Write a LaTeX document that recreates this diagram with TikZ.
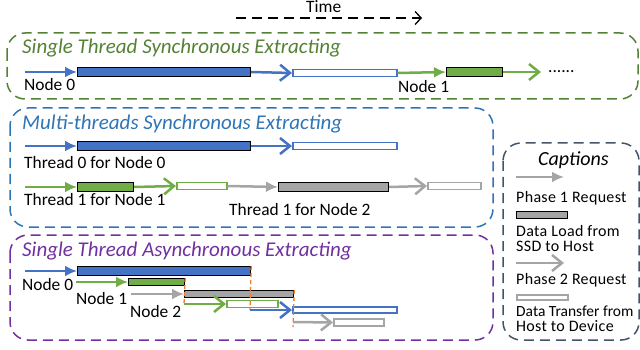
\documentclass[tikz,border=0pt]{standalone}
\usepackage{fontspec}
\setmainfont{Carlito}
\usetikzlibrary{arrows.meta}
\definecolor{oblue}{HTML}{4472C4}
\definecolor{ogreen}{HTML}{70AD47}
\definecolor{ogray}{HTML}{A5A5A5}
\definecolor{oorange}{HTML}{ED7D31}
\definecolor{tgreen}{HTML}{548235}
\definecolor{tblue}{HTML}{2E75B6}
\definecolor{tpurple}{HTML}{7030A0}
\definecolor{cgray}{HTML}{44546A}

\begin{document}
\begin{tikzpicture}[x=1pt, y=-1pt,
    panel/.style={line width=1.5pt, dash pattern=on 10pt off 6pt, rounded corners=18pt},
    ptitle/.style={anchor=base west, inner sep=0pt, font=\fontsize{21}{24}\selectfont\itshape},
    lbl/.style={anchor=base west, inner sep=0pt, font=\fontsize{17.4}{20}\selectfont},
    captxt/.style={anchor=base west, inner sep=0pt, font=\fontsize{16}{19}\selectfont\addfontfeatures{LetterSpace=2}},
    loadbar/.style={draw=black, line width=1.2pt, fill=#1, inner sep=0pt, minimum height=8.5pt, anchor=west},
    xferbar/.style={draw=#1, line width=1.5pt, fill=white, inner sep=0pt, minimum height=7pt, anchor=west},
    req1/.style={draw=#1, line width=2.5pt, -{Latex[length=12pt,width=11pt]}},
    req2/.style={draw=#1, line width=2.5pt, -{Straight Barb[length=10pt,width=16pt]}},
    sync/.style={draw=oorange, line width=1.3pt, dash pattern=on 4pt off 3pt},
]
\useasboundingbox (0,0) rectangle (640,350);

% time axis
\node[lbl] (time) at (306,13) {Time};
\coordinate (t0) at (236,18);
\coordinate (t1) at (422,18);
\draw[black, line width=1.3pt, dash pattern=on 10pt off 6pt, -{Straight Barb[length=6pt,width=13pt]}] (t0) -- (t1);

% panels
\draw[panel, tgreen] (7,33) rectangle (638,99);
\draw[panel, tblue] (10,108) rectangle (493,227);
\draw[panel, tpurple] (10,235) rectangle (493,340);
\draw[panel, cgray] (503,143) rectangle (639,340);

\node[ptitle, tgreen] (title1) at (22,54) {Single Thread Synchronous Extracting};
\node[ptitle, tblue] (title2) at (22,130) {Multi-threads Synchronous Extracting};
\node[ptitle, tpurple] (title3) at (22,256) {Single Thread Asynchronous Extracting};

% single thread sync
\coordinate (s1) at (25,72);
\node[loadbar=oblue, minimum width=173pt] (b1) at (77,72) {};
\node[xferbar=oblue, minimum width=104pt] (h1) at (292,73) {};
\node[loadbar=ogreen, minimum width=56pt] (g1) at (446,72) {};
\coordinate (e1) at (541,72);
\draw[req1=oblue] (s1) -- (b1.west);
\draw[req2=oblue] (b1.east) -- (h1.west);
\draw[req1=ogreen] (h1.east) -- (g1.west);
\draw[req2=ogreen] (g1.east) -- (e1);
\node[lbl] (dots) at (548,73) {......};
\node[lbl] (n10) at (24,91) {Node 0};
\node[lbl] (n11) at (398,93) {Node 1};

% multi-threads sync
\coordinate (s2a) at (25,146);
\node[loadbar=oblue, minimum width=173pt] (b2a) at (77,146) {};
\node[xferbar=oblue, minimum width=104pt] (h2a) at (292,146) {};
\draw[req1=oblue] (s2a) -- (b2a.west);
\draw[req2=oblue] (b2a.east) -- (h2a.west);
\node[lbl] (t20) at (24,168) {Thread 0 for Node 0};

\coordinate (s2b) at (25,187);
\node[loadbar=ogreen, minimum width=56pt] (g2b) at (77,187) {};
\node[xferbar=ogreen, minimum width=50pt] (h2b) at (176,186) {};
\node[loadbar=ogray, minimum width=110pt] (k2b) at (278,187) {};
\node[xferbar=ogray, minimum width=53pt] (h2c) at (427,186) {};
\draw[req1=ogreen] (s2b) -- (g2b.west);
\draw[req2=ogreen] (g2b.east) -- (h2b.west);
\draw[req1=ogray] (h2b.east) -- (k2b.west);
\draw[req2=ogray] (k2b.east) -- (h2c.west);
\node[lbl] (t21) at (24,205) {Thread 1 for Node 1};
\node[lbl] (t22) at (229,215) {Thread 1 for Node 2};

% single thread async
\coordinate (s3a) at (25,271);
\coordinate (s3b) at (76,282);
\coordinate (s3c) at (131,294);
\node[loadbar=oblue, minimum width=173pt] (b3a) at (77,271) {};
\node[loadbar=ogreen, minimum width=56pt, minimum height=6.5pt] (g3b) at (128,282) {};
\node[loadbar=ogray, minimum width=109pt, minimum height=6.5pt] (k3c) at (184,294) {};
\node[xferbar=ogreen, minimum width=51pt] (h3d) at (226,304) {};
\node[xferbar=oblue, minimum width=104pt, minimum height=6pt] (h3e) at (292,310) {};
\node[xferbar=ogray, minimum width=50pt] (h3f) at (333,322.5) {};
\coordinate (o1) at (184,304);
\coordinate (o2) at (250,310);
\coordinate (o3) at (293,322);
\coordinate (o3b) at (293,327);
\draw[sync] (g3b.north east) -- (o1);
\draw[sync] (b3a.north east) -- (o2);
\draw[sync] (k3c.north east) -- (o3b);
\draw[req1=oblue] (s3a) -- (b3a.west);
\draw[req1=ogreen] (s3b) -- (g3b.west);
\draw[req1=ogray] (s3c) -- (k3c.west);
\draw[req2=ogreen] (o1) -- (h3d.west);
\draw[req2=oblue] (o2) -- (h3e.west);
\draw[req2=ogray] (o3) -- (h3f.west);
\node[lbl] (n30) at (22,290) {Node 0};
\node[lbl] (n31) at (76,304) {Node 1};
\node[lbl] (n32) at (130,317) {Node 2};

% captions
\node[anchor=base west, inner sep=0pt, font=\fontsize{20}{23}\selectfont\itshape] (capt) at (538,165) {Captions};
\coordinate (c1a) at (516,177);
\coordinate (c1b) at (564,177);
\draw[req1=ogray] (c1a) -- (c1b);
\node[captxt] (ph1) at (516,202) {Phase 1 Request};
\node[loadbar=ogray, minimum width=51pt, minimum height=6.5pt] (kc) at (516,215) {};
\node[captxt] (dl1) at (516,236) {Data Load from};
\node[captxt] (dl2) at (516,251) {SSD to Host};
\coordinate (c2a) at (516,263);
\coordinate (c2b) at (564,263);
\draw[req2=ogray] (c2a) -- (c2b);
\node[captxt] (ph2) at (516,284) {Phase 2 Request};
\node[xferbar=ogray, minimum width=51pt, minimum height=5pt] (hc) at (516,297.5) {};
\node[captxt, font=\fontsize{15.5}{19}\selectfont] (dt1) at (516,316) {Data Transfer from};
\node[captxt] (dt2) at (516,331) {Host to Device};
\end{tikzpicture}
\end{document}
